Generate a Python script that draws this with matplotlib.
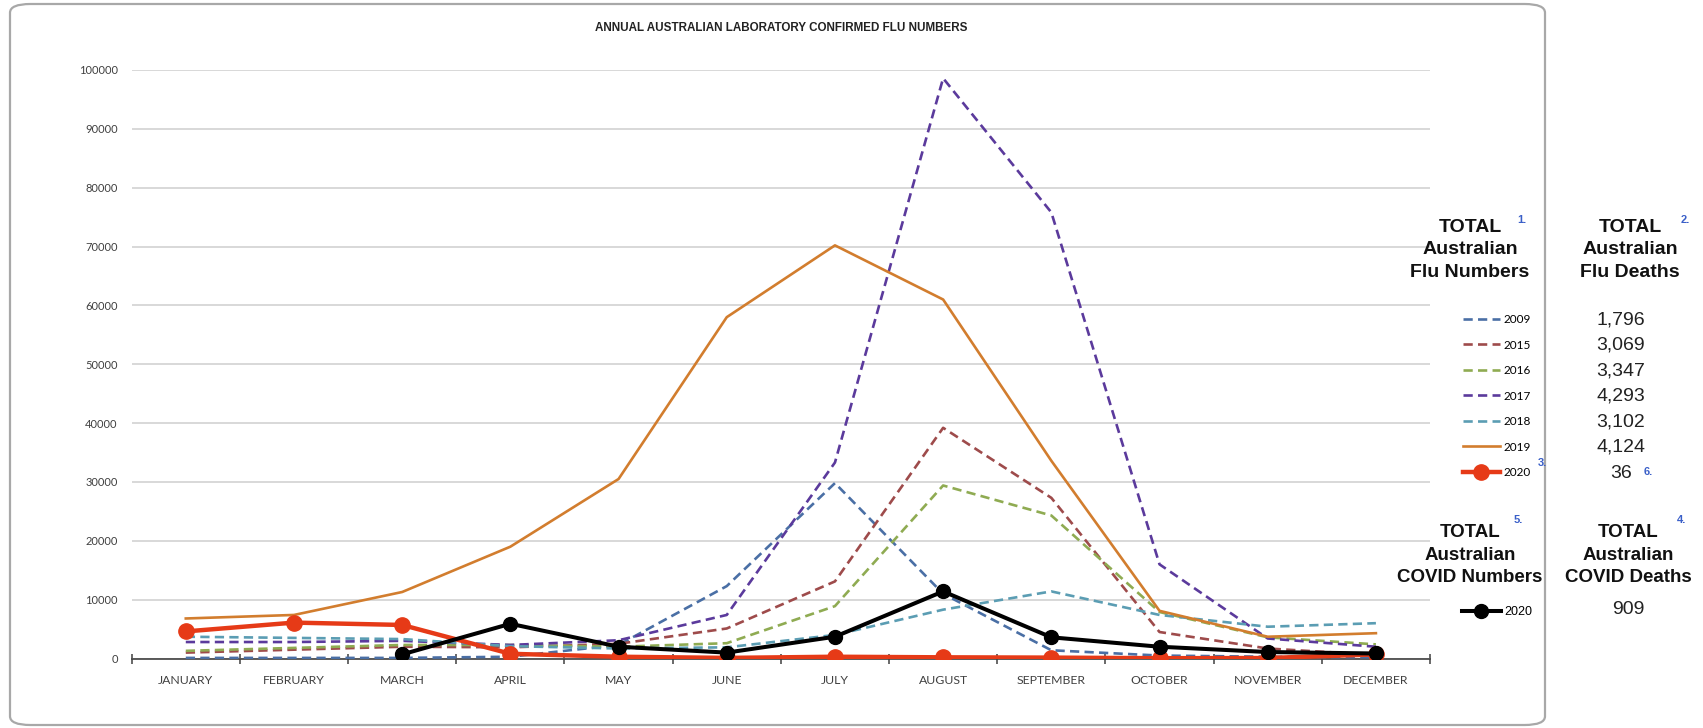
import matplotlib.pyplot as plt
from matplotlib.patches import FancyBboxPatch

months = ["JANUARY", "FEBRUARY", "MARCH", "APRIL", "MAY", "JUNE", "JULY",
          "AUGUST", "SEPTEMBER", "OCTOBER", "NOVEMBER", "DECEMBER"]

# monthly lab confirmed flu numbers
flu_2009 = [100, 100, 100, 300, 2300, 12300, 29800, 11000, 1400, 500, 300, 200]
flu_2015 = [1000, 1500, 2000, 1900, 2500, 5100, 13100, 39200, 27300, 4500, 1700, 600]
flu_2016 = [1300, 1800, 2300, 2300, 2000, 2600, 8900, 29400, 24300, 7900, 3600, 2400]
flu_2017 = [2800, 2800, 3000, 2300, 3100, 7400, 33300, 98600, 75800, 16000, 3400, 2000]
flu_2018 = [3700, 3500, 3300, 2100, 1700, 1900, 4000, 8300, 11400, 7400, 5400, 6000]
flu_2019 = [6800, 7400, 11300, 19000, 30500, 58000, 70200, 61000, 33600, 8100, 3700, 4300]
flu_2020 = [4600, 6100, 5700, 800, 300, 100, 300, 200, 150, 50, 80, 700]

# covid starts in march
covid_months = months[2:]
covid_2020 = [700, 5900, 2000, 1000, 3700, 11400, 3600, 2000, 1100, 850]

dashed_years = ["2009", "2015", "2016", "2017", "2018"]
dashed_series = [flu_2009, flu_2015, flu_2016, flu_2017, flu_2018]
dashed_colors = ["#4a6fa5", "#9e4b4b", "#8fab52", "#5b3a9c", "#5b9db3"]

flu_deaths = ["1,796", "3,069", "3,347", "4,293", "3,102", "4,124", "36"]
covid_deaths = "909"

W, H = 1703, 728
fig = plt.figure(figsize=(W / 100, H / 100), dpi=100)

# rounded frame around the chart
frame = FancyBboxPatch((10 / W, 3 / H), 1535 / W, 721 / H,
                       boxstyle="round,pad=0,rounding_size=0.012",
                       transform=fig.transFigure, fill=False,
                       edgecolor="#a8a8a8", linewidth=1.6)
fig.add_artist(frame)

ax = fig.add_axes([131.7 / W, (H - 658.5) / H, 1298.3 / W, 588.5 / H])
x = list(range(len(months)))
xc = [months.index(m) for m in covid_months]

handles = []
for yr, vals, col in zip(dashed_years, dashed_series, dashed_colors):
    ln, = ax.plot(x, vals, color=col, lw=1.9, dashes=(3.5, 2), zorder=3, label=yr)
    handles.append(ln)
ln, = ax.plot(x, flu_2019, color="#d27d2e", lw=1.9, zorder=4, label="2019")
handles.append(ln)
ln, = ax.plot(x, flu_2020, color="#e63a17", lw=3.2, marker="o", ms=11,
              zorder=5, label="2020")
handles.append(ln)
covid_ln, = ax.plot(xc, covid_2020, color="black", lw=2.9, marker="o", ms=10,
                    zorder=6, label="2020")

ax.set_xlim(-0.5, 11.5)
ax.set_ylim(0, 100000)
ax.set_yticks(range(0, 100001, 10000))
ax.set_xticks(x)
ax.set_xticklabels(months)
ax.set_xticks([i - 0.5 for i in range(13)], minor=True)
for s in ["top", "right", "left"]:
    ax.spines[s].set_visible(False)
ax.spines["bottom"].set_color("#404040")
ax.spines["bottom"].set_linewidth(1.2)
ax.spines["bottom"].set_zorder(2)
ax.grid(axis="y", color="#d2d2d2", lw=1.2, zorder=0)
ax.set_axisbelow(True)
ax.tick_params(axis="y", length=0, pad=10, labelsize=8, labelcolor="#404040")
ax.tick_params(axis="x", which="major", length=0, pad=12, labelsize=8.8,
               labelcolor="#404040")
ax.tick_params(axis="x", which="minor", direction="inout", length=7,
               width=1.1, color="#404040")
for lab in ax.get_xticklabels() + ax.get_yticklabels():
    lab.set_family(["Lato", "DejaVu Sans"])

fig.text(781 / W, 1 - 28 / H, "ANNUAL AUSTRALIAN LABORATORY CONFIRMED FLU NUMBERS",
         ha="center", va="center", fontsize=8.4, fontweight="bold",
         family="Liberation Sans", color="#222222")

# legend for the flu years
fig.legend(handles=handles, loc="upper left",
           bbox_to_anchor=(1463 / W, 1 - 314 / H), frameon=False,
           borderpad=0, borderaxespad=0, handlelength=3.1, handletextpad=0.3,
           labelspacing=1.23, numpoints=1, prop={"family": "Lato", "size": 8.5})
fig.legend(handles=[covid_ln], loc="upper left",
           bbox_to_anchor=(1462 / W, 1 - 606 / H), frameon=False,
           borderpad=0, borderaxespad=0, handlelength=3.1, handletextpad=0.3,
           numpoints=1, prop={"family": "Liberation Sans", "size": 9})


def header(cx, cy, lines, size):
    # one text per line so the little footnote numbers don't collide
    for k, t in enumerate(lines):
        fig.text(cx / W, 1 - (cy + (k - 1) * 22.5) / H, t, ha="center",
                 va="center", fontsize=size, fontweight="bold",
                 family="Liberation Sans", color="#111111")


header(1470, 250, ["TOTAL", "Australian", "Flu Numbers"], 14)
header(1630, 250, ["TOTAL", "Australian", "Flu Deaths"], 14)
header(1470, 555, ["TOTAL", "Australian", "COVID Numbers"], 13.5)
header(1628, 555, ["TOTAL", "Australian", "COVID Deaths"], 13.5)

for i, d in enumerate(flu_deaths):
    fig.text(1621 / W, 1 - (320 + i * 25.5) / H, d, ha="center", va="center",
             fontsize=14, family="Liberation Sans", color="#222222")
fig.text(1628 / W, 1 - 610 / H, covid_deaths, ha="center", va="center",
         fontsize=14, family="Liberation Sans", color="#222222")

notes = [("1.", 1522, 220), ("2.", 1685, 220), ("3.", 1542, 463),
         ("6.", 1648, 472), ("5.", 1518, 520), ("4.", 1682, 520)]
for t, nx, ny in notes:
    fig.text(nx / W, 1 - ny / H, t, ha="center", va="center", fontsize=8,
             fontweight="bold", family="Liberation Sans", color="#3a5fc8")

fig.savefig("out.png", dpi=100)
